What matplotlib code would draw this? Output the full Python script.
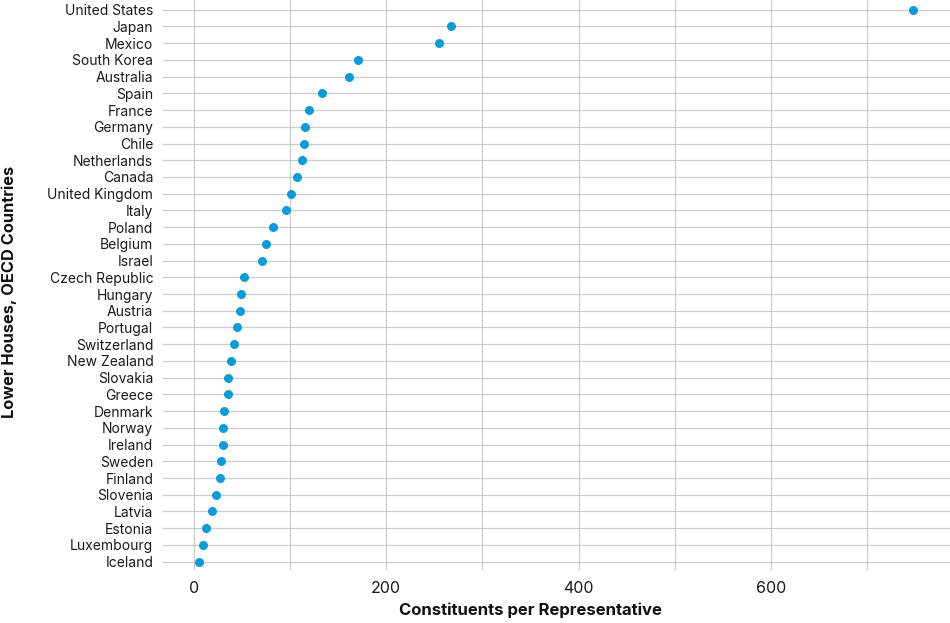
import matplotlib
matplotlib.use("Agg")
import matplotlib.pyplot as plt

countries = ["United States", "Japan", "Mexico", "South Korea", "Australia", "Spain",
             "France", "Germany", "Chile", "Netherlands", "Canada", "United Kingdom",
             "Italy", "Poland", "Belgium", "Israel", "Czech Republic", "Hungary",
             "Austria", "Portugal", "Switzerland", "New Zealand", "Slovakia", "Greece",
             "Denmark", "Norway", "Ireland", "Sweden", "Finland", "Slovenia", "Latvia",
             "Estonia", "Luxembourg", "Iceland"]
values = [748, 267, 255, 171, 161, 133, 120, 116, 115, 113, 107, 101, 96, 82.5, 75.6,
          71.4, 52.7, 49.2, 47.9, 44.7, 42, 38.9, 36.1, 35.7, 31.9, 30.9, 30.2, 28.1,
          27.4, 23, 19.5, 12.9, 9.4, 5.3]
x_ticks = [0, 200, 400, 600]
x_grid = [0, 100, 200, 300, 400, 500, 600, 700]

plt.rcParams['font.family'] = ['Inter', 'DejaVu Sans']

fig = plt.figure(figsize=(9.5, 6.23), dpi=100)
ax = fig.add_axes([163/950, 53/623, 1 - 163/950, 570/623])

ypos = list(range(len(countries)))
ax.scatter(values, ypos, s=42, color='#0A9BD9', zorder=3, linewidths=0)

ax.set_xlim(-31.8, 786)
ax.set_ylim(len(countries) - 1 + 0.5, -0.58)
ax.set_yticks(ypos)
ax.set_yticklabels(countries, fontsize=10, color='#1a1a1a')
ax.set_xticks(x_grid, minor=False)
ax.set_xticklabels([str(v) if v in x_ticks else '' for v in x_grid], fontsize=11.5, color='#1a1a1a')
ax.tick_params(axis='both', length=0)
ax.tick_params(axis='y', pad=7)
ax.tick_params(axis='x', pad=8)
ax.grid(True, color='#cccccc', linewidth=0.9)
ax.set_axisbelow(True)
for s in ax.spines.values():
    s.set_visible(False)

fig.text(530.5/950, 1 - 610/623, "Constituents per Representative", fontsize=12,
         fontweight='bold', ha='center', va='center', color='#111111')
fig.text(9/950, 1 - 292/623, "Lower Houses, OECD Countries", fontsize=11.8,
         fontweight='bold', ha='center', va='center', rotation=90, color='#111111')

fig.savefig("out.png", dpi=100)
